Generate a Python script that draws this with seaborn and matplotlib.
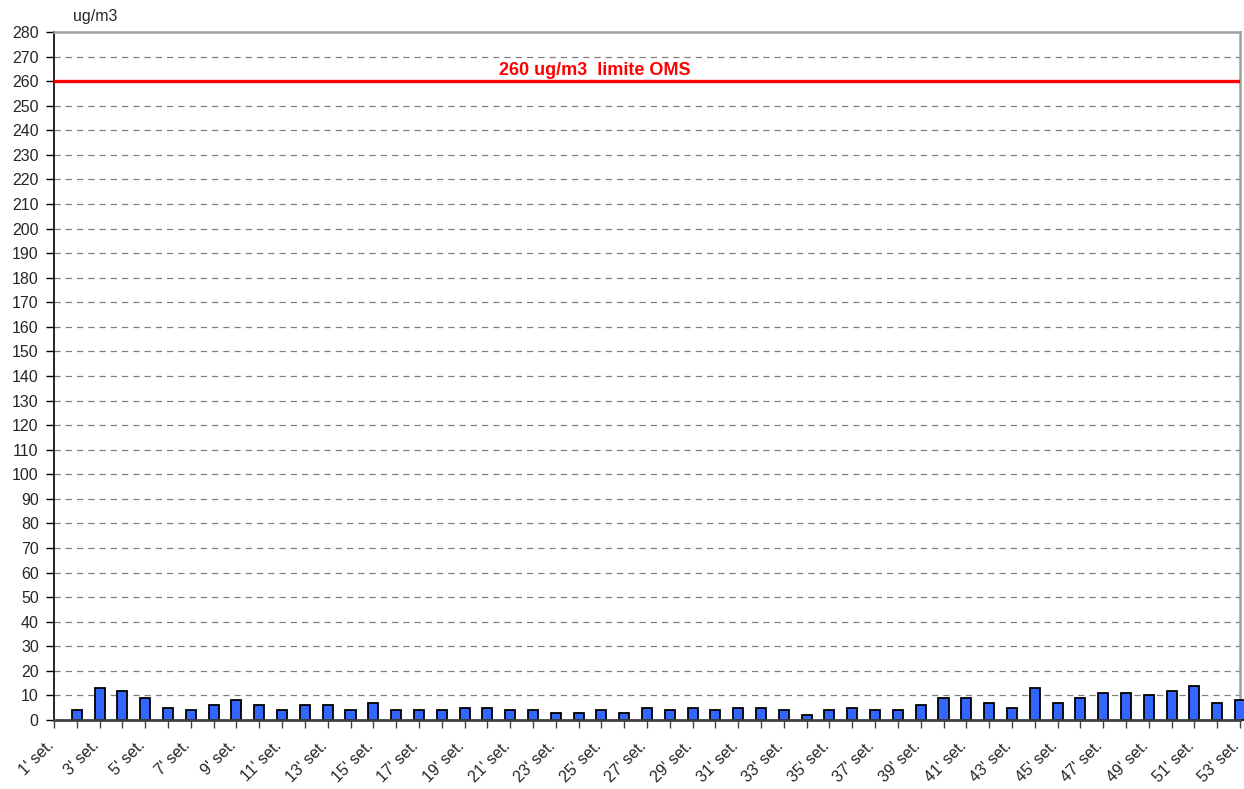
import numpy as np
import pandas as pd
import matplotlib
matplotlib.use("Agg")
import matplotlib.pyplot as plt
import matplotlib.transforms as mtransforms
import seaborn as sns

# weekly values (ug/m3), week 1 has no bar
weeks = [f"{i}' set." for i in range(1, 54)]
values = [np.nan, 4, 13, 12, 9, 5, 4, 6, 8, 6,
          4, 6, 6, 4, 7, 4, 4, 4, 5, 5,
          4, 4, 3, 3, 4, 3, 5, 4, 5, 4,
          5, 5, 4, 2, 4, 5, 4, 4, 6, 9,
          9, 7, 5, 13, 7, 9, 11, 11, 10, 12,
          14, 7, 8]
limit_value = 260
limit_label = "260 ug/m3  limite OMS"
unit_label = "ug/m3"
y_ticks = list(range(0, 281, 10))

df = pd.DataFrame({"week": weeks, "value": values})

sns.set_style("white")
plt.rcParams['font.family'] = ['Liberation Sans', 'DejaVu Sans']

fig = plt.figure(figsize=(12.44, 7.89), dpi=100)
ax = fig.add_axes([54 / 1244, 1 - 720 / 789, (1240 - 54) / 1244, (720 - 32) / 789])

sns.barplot(data=df, x="week", y="value", color="#3366ff", saturation=1,
            width=0.44, edgecolor="black", linewidth=1.3, ax=ax, zorder=3)
for p in ax.patches:
    p.set_clip_on(False)

# gridlines
for v in y_ticks[1:-1]:
    ax.axhline(v, color="#808080", lw=0.9, ls=(0, (5, 4)), zorder=1)

# WHO limit
ax.axhline(limit_value, color="#ff0000", lw=2.4, zorder=4)
ax.text(23.7, limit_value + 0.8, limit_label, color="#ff0000", fontsize=13,
        fontweight="bold", ha="center", va="bottom")

ax.set_xlim(0, len(weeks) - 1)
ax.set_ylim(0, 280)
ax.set_yticks(y_ticks)
ax.set_yticklabels([str(t) for t in y_ticks], fontsize=11.5)
ax.set_xticks(range(len(weeks)))
ax.set_xticklabels([w if i % 2 == 0 else "" for i, w in enumerate(weeks)],
                   rotation=45, ha="right", rotation_mode="anchor", fontsize=11.5)
ax.set_xlabel("")
ax.set_ylabel("")
ax.tick_params(axis="y", length=6, width=1, color="black", pad=5, left=True)
ax.tick_params(axis="x", length=6, width=1, color="#404040", pad=7, bottom=True)

# shift the slanted week labels a little to the left, like the original
shift = mtransforms.ScaledTranslation(-8 / 100, 0, fig.dpi_scale_trans)
for lbl in ax.get_xticklabels():
    lbl.set_transform(lbl.get_transform() + shift)

ax.spines["left"].set_color("black")
ax.spines["left"].set_linewidth(1.2)
ax.spines["bottom"].set_color("#404040")
ax.spines["bottom"].set_linewidth(2)
ax.spines["bottom"].set_zorder(5)
for s in ["top", "right"]:
    ax.spines[s].set_color("#a0a0a0")
    ax.spines[s].set_linewidth(1.8)

ax.text(0.016, 1.012, unit_label, transform=ax.transAxes, fontsize=11.5,
        ha="left", va="bottom")

fig.savefig("out.png", dpi=100)
